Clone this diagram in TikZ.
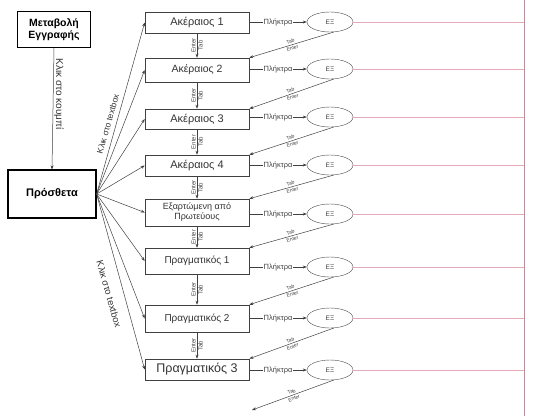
\documentclass[tikz,border=0pt]{standalone}
\usepackage{fontspec}
\setmainfont{Liberation Sans}
\usetikzlibrary{arrows.meta,shapes.geometric}
\definecolor{guidered}{RGB}{214,130,150}
\definecolor{guidepink}{RGB}{228,170,185}
\begin{document}
\begin{tikzpicture}[x=1pt,y=-1pt,
  box/.style={draw=black!75, line width=0.6pt, minimum width=104pt, inner sep=1pt,
    align=center, font=\fontsize{11}{12}\selectfont, text=black!80},
  mainbox/.style={draw=black, line width=1.2pt, inner sep=1pt, align=center,
    font=\bfseries\fontsize{10.5}{12}\selectfont},
  ell/.style={draw=black!70, ellipse, minimum width=46pt, minimum height=20pt,
    inner sep=0pt, font=\fontsize{6.5}{7}\selectfont, text=black!75},
  arr/.style={-{Stealth[length=4pt,width=3pt]}, draw=black!75, line width=0.5pt},
  lbl/.style={font=\fontsize{5}{6}\selectfont, text=black!75, inner sep=0.8pt},
  vlbl/.style={font=\fontsize{6}{7}\selectfont, text=black!75, inner sep=1pt},
  keylbl/.style={font=\fontsize{7.5}{8}\selectfont, text=black!75, inner sep=1pt, fill=white},
  side/.style={font=\fontsize{8.5}{9}\selectfont, text=black!80, inner sep=1pt},
  guide/.style={draw=guidepink, line width=0.9pt}
]
\useasboundingbox (0,0) rectangle (537,416);

% left-hand entry boxes
\node[mainbox, minimum width=73pt, minimum height=36pt] (mod) at (54,29.5) {Μεταβολή\\Εγγραφής};
\node[mainbox, minimum width=88pt, minimum height=48pt, font=\bfseries\fontsize{11}{12}\selectfont] (add) at (52,194) {Πρόσθετα};
\draw[arr] (mod.south) -- (add.north);
\node[side, rotate=-90, font=\fontsize{10}{11}\selectfont] (clickbtn) at (59,94) {Κλικ στο κουμπί};

% field boxes
\node[box, minimum height=21pt] (b1) at (197,22.5) {Ακέραιος 1};
\node[box, minimum height=24pt, font=\fontsize{10.5}{12}\selectfont] (b2) at (197,70) {Ακέραιος 2};
\node[box, minimum height=20pt] (b3) at (197,119) {Ακέραιος 3};
\node[box, minimum height=21pt] (b4) at (197,165.5) {Ακέραιος 4};
\node[box, minimum height=27pt, font=\fontsize{9}{10}\selectfont] (b5) at (197,212.5) {Εξαρτώμενη από\\Πρωτεύους};
\node[box, minimum height=26pt, font=\fontsize{10}{11}\selectfont] (b6) at (197,261) {Πραγματικός 1};
\node[box, minimum height=27pt, font=\fontsize{10}{11}\selectfont] (b7) at (197,318.5) {Πραγματικός 2};
\node[box, minimum height=21pt, font=\fontsize{12.5}{13}\selectfont] (b8) at (197,369.5) {Πραγματικός 3};

% validation ellipses
\node[ell] (e1) at (330,22) {ΕΞ};
\node[ell] (e2) at (330,69) {ΕΞ};
\node[ell] (e3) at (330,117) {ΕΞ};
\node[ell] (e4) at (330,165) {ΕΞ};
\node[ell] (e5) at (330,214) {ΕΞ};
\node[ell] (e6) at (330,267) {ΕΞ};
\node[ell] (e7) at (330,318) {ΕΞ};
\node[ell] (e8) at (330,370) {ΕΞ};

% fan from the add box to every field
\foreach \i in {1,...,8} {
  \draw[arr] (add.east) -- (b\i.west);
}
\node[side, rotate=74] (clicktop) at (108,124) {Κλικ στο textbox};
\node[side, rotate=-74, font=\fontsize{9.5}{10}\selectfont] (clickbot) at (109,294) {Κλικ στο textbox};

% moving down between fields
\foreach \i/\j in {1/2,2/3,3/4,4/5,5/6,6/7,7/8} {
  \draw[arr] (b\i.south) -- (b\j.north)
    node[midway, vlbl, rotate=90, anchor=south] {Enter}
    node[midway, vlbl, rotate=90, anchor=north] {Tab};
}

% key input into each check and back to the next field
\foreach \i in {1,...,8} {
  \draw[arr] (e\i.west -| b\i.east) -- node[keylbl] {Πλήκτρα} (e\i.west);
}
\foreach \i/\j in {1/2,2/3,3/4,4/5,5/6,6/7,7/8} {
  \draw[arr] (e\i.-70) -- (b\j.north east)
    node[midway, sloped, lbl, align=center] {Tab\\[1pt]Enter};
}
\coordinate (out) at (252,410);
\draw[arr] (e8.-70) -- (out)
  node[midway, sloped, lbl, align=center] {Tab\\[1pt]Enter};

% guide lines on the right
\coordinate (rail) at (524,0);
\draw[draw=guidered, line width=0.9pt] (rail) -- (524,416);
\foreach \i in {1,...,8} {
  \draw[guide] (e\i.east) -- (e\i.east -| rail);
}
\end{tikzpicture}
\end{document}
